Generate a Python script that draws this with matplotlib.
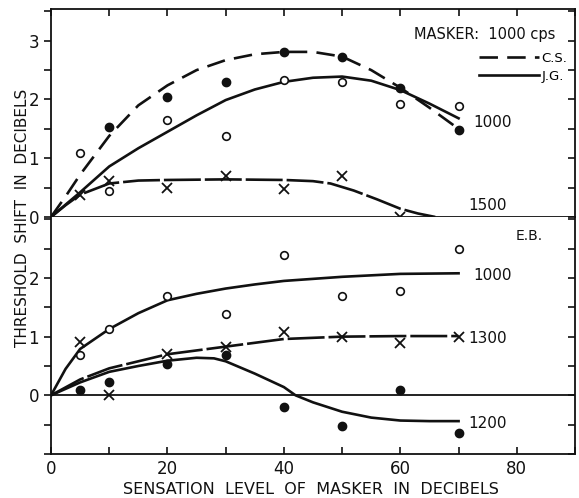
import numpy as np
import matplotlib.pyplot as plt

# sensation level of masker (dB) where points were measured
levels = [5, 10, 20, 30, 40, 50, 60, 70]

# ---- upper panel: masker 1000 cps, subjects C.S. and J.G.
cs_1000 = [None, 1.54, 2.05, 2.29, 2.80, 2.72, 2.20, 1.48]
jg_1000 = [1.09, 0.44, 1.65, 1.38, 2.33, 2.30, 1.92, 1.89]
pts_1500 = [0.37, 0.61, 0.50, 0.69, 0.48, 0.70, 0.0, -0.14]

cs_curve_x = [0, 2.5, 5, 10, 15, 20, 25, 30, 35, 40, 45, 50, 55, 60, 65, 70]
cs_curve_y = [0, 0.35, 0.72, 1.38, 1.90, 2.24, 2.50, 2.67, 2.77, 2.81, 2.81, 2.73, 2.50, 2.20, 1.86, 1.50]

jg_curve_x = [0, 5, 10, 15, 20, 25, 30, 35, 40, 45, 50, 55, 60, 65, 70]
jg_curve_y = [0, 0.42, 0.86, 1.17, 1.45, 1.73, 1.99, 2.17, 2.30, 2.37, 2.39, 2.32, 2.16, 1.93, 1.68]

c1500_x = [0, 2.5, 5, 10, 15, 20, 30, 40, 45, 48, 52, 56, 60, 63, 66]
c1500_y = [0, 0.20, 0.38, 0.57, 0.62, 0.63, 0.64, 0.63, 0.61, 0.57, 0.45, 0.30, 0.14, 0.06, 0.0]

# ---- lower panel: subject E.B.
eb_1000 = [0.68, 1.13, 1.70, 1.38, 2.39, 1.69, 1.78, 2.50]
eb_1300 = [0.91, 0.0, 0.70, 0.82, 1.08, 1.00, 0.89, 0.99]
eb_1200 = [0.09, 0.23, 0.53, 0.68, -0.20, -0.53, 0.09, -0.64]

eb1000_x = [0, 2.5, 5, 10, 15, 20, 25, 30, 35, 40, 50, 60, 70]
eb1000_y = [0, 0.45, 0.79, 1.13, 1.40, 1.62, 1.73, 1.82, 1.89, 1.95, 2.02, 2.07, 2.08]

eb1300_x = [0, 5, 10, 20, 30, 40, 50, 60, 70]
eb1300_y = [0, 0.27, 0.46, 0.70, 0.83, 0.96, 1.00, 1.01, 1.01]

eb1200_x = [0, 5, 10, 15, 20, 25, 28, 30, 35, 40, 42, 45, 50, 55, 60, 65, 70]
eb1200_y = [0, 0.22, 0.40, 0.50, 0.59, 0.64, 0.63, 0.58, 0.37, 0.14, 0.0, -0.12, -0.28, -0.38, -0.43, -0.44, -0.44]

ink = '#111111'
plt.rcParams['font.family'] = ['DejaVu Sans']

fig = plt.figure(figsize=(5.79, 4.98), dpi=100)
ax1 = fig.add_axes([0.0881, 0.5643, 0.905, 0.4176])
ax2 = fig.add_axes([0.0881, 0.0884, 0.905, 0.4759])

lw = 1.9
open_kw = dict(marker='o', ls='none', ms=5.5, mfc='white', mec=ink, mew=1.2, clip_on=False, zorder=4)
fill_kw = dict(marker='o', ls='none', ms=6, mfc=ink, mec=ink, clip_on=False, zorder=4)
x_kw = dict(marker='x', ls='none', ms=6.5, mec=ink, mew=1.3, clip_on=False, zorder=4)


def pts(vals):
    xs = [x for x, v in zip(levels, vals) if v is not None]
    ys = [v for v in vals if v is not None]
    return xs, ys


# upper panel
cs_line, = ax1.plot(cs_curve_x, cs_curve_y, color=ink, lw=lw, dashes=(7, 3.5))
jg_line, = ax1.plot(jg_curve_x, jg_curve_y, color=ink, lw=lw)
ax1.plot(c1500_x, c1500_y, color=ink, lw=lw, dashes=(14, 1.5))
ax1.plot(*pts(cs_1000), **fill_kw)
ax1.plot(*pts(jg_1000), **open_kw)
ax1.plot(*pts(pts_1500), **x_kw)

ax1.text(72.6, 1.60, '1000', fontsize=11, ha='left', va='center', color=ink)
ax1.text(71.6, 0.19, '1500', fontsize=11, ha='left', va='center', color=ink)
ax1.text(62.4, 3.10, 'MASKER:  1000 cps', fontsize=10.5, ha='left', va='center', color=ink)
ax1.legend([cs_line, jg_line], ['C.S.', 'J.G.'], loc='center right',
           bbox_to_anchor=(0.985, 0.72), frameon=False, fontsize=9.5,
           handlelength=4.6, handletextpad=0.15, labelspacing=0.35,
           borderpad=0, borderaxespad=0)

ax1.set_xlim(0, 90)
ax1.set_ylim(0, 3.54)

# lower panel
ax2.axhline(0, color=ink, lw=1.3)
ax2.plot(eb1000_x, eb1000_y, color=ink, lw=lw)
ax2.plot(eb1300_x, eb1300_y, color=ink, lw=lw, dashes=(14, 1.5))
ax2.plot(eb1200_x, eb1200_y, color=ink, lw=lw)
ax2.plot(levels, eb_1000, **open_kw)
ax2.plot(levels, eb_1300, **x_kw)
ax2.plot(levels, eb_1200, **fill_kw)

ax2.text(72.6, 2.04, '1000', fontsize=11, ha='left', va='center', color=ink)
ax2.text(71.6, 0.97, '1300', fontsize=11, ha='left', va='center', color=ink)
ax2.text(71.6, -0.48, '1200', fontsize=11, ha='left', va='center', color=ink)
ax2.text(79.8, 2.71, 'E.B.', fontsize=10, ha='left', va='center', color=ink)

ax2.set_xlim(0, 90)
ax2.set_ylim(-1.0, 3.04)

# frames and ticks
for ax in (ax1, ax2):
    for s in ax.spines.values():
        s.set_color(ink)
        s.set_linewidth(1.3)
    ax.tick_params(axis='y', direction='out', length=5, width=1.2,
                   labelsize=12, colors=ink)
    ax.tick_params(axis='x', direction='in', length=5, width=1.2, labelsize=12, colors=ink)

ax1.set_yticks(np.arange(0, 3.51, 0.5))
ax1.set_yticklabels(['0', '', '1', '', '2', '', '3', ''])
ax1.set_xticks(np.arange(0, 91, 10))
ax1.tick_params(axis='x', bottom=False, top=True, labelbottom=False)

ax2.set_yticks(np.arange(-1, 3.01, 0.5))
ax2.set_yticklabels(['', '', '0', '', '1', '', '2', '', ''])
ax2.set_xticks(np.arange(0, 91, 10))
ax2.set_xticklabels(['0', '', '20', '', '40', '', '60', '', '80', ''])
ax2.tick_params(axis='x', top=False, pad=4)
ax2.spines['top'].set_visible(False)

# right-hand ticks point inwards
for ax in (ax1, ax2):
    axr = ax.twinx()
    axr.set_ylim(ax.get_ylim())
    axr.set_yticks(ax.get_yticks())
    axr.tick_params(axis='y', direction='in', length=5, width=1.2,
                    labelright=False, colors=ink)
    for s in axr.spines.values():
        s.set_visible(False)

fig.text(0.039, 0.562, 'THRESHOLD  SHIFT  IN  DECIBELS', rotation=90,
         fontsize=11, ha='center', va='center', color=ink)
fig.text(0.537, 0.018, 'SENSATION  LEVEL  OF  MASKER  IN  DECIBELS',
         fontsize=11.5, ha='center', va='center', color=ink)

fig.savefig('out.png', dpi=100)
